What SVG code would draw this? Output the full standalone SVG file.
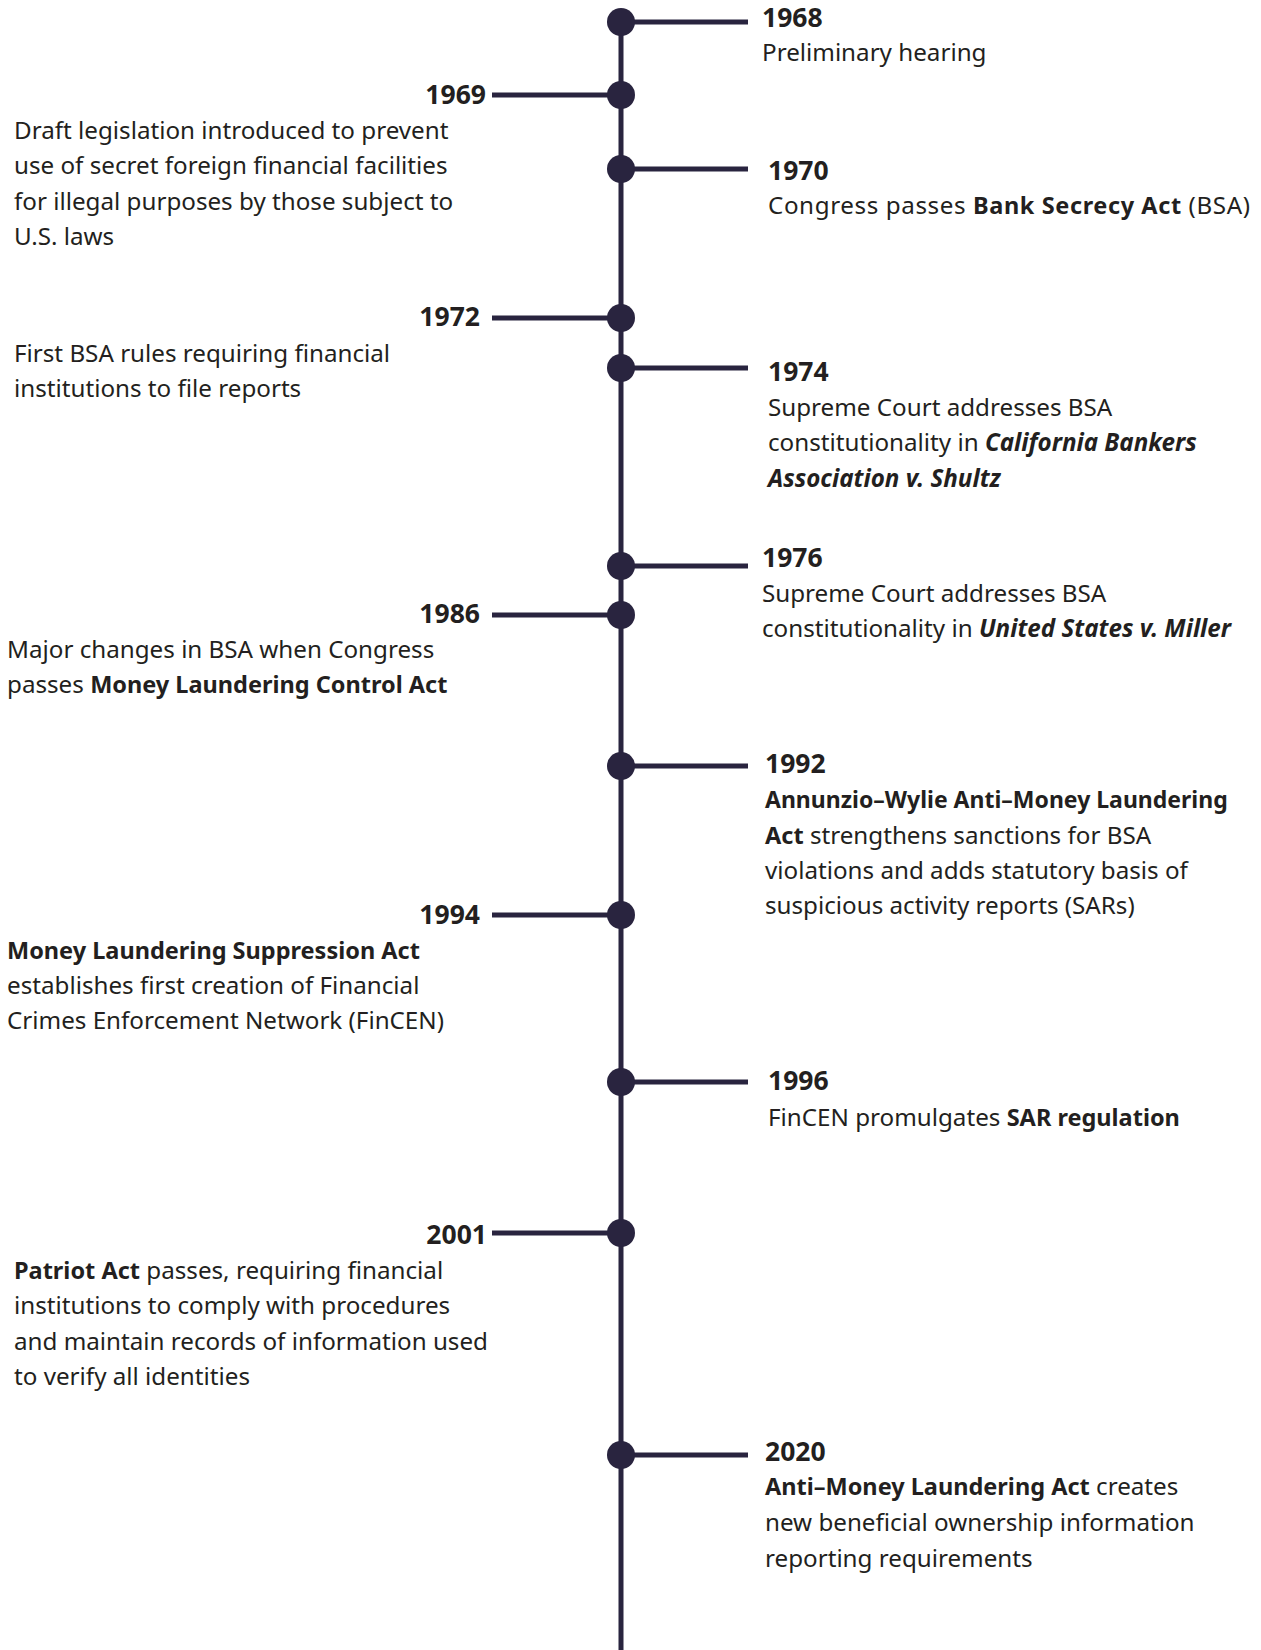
<svg xmlns="http://www.w3.org/2000/svg" width="1261" height="1650" viewBox="0 0 1261 1650">
<style>
.bg{fill:#ffffff}
.ln{stroke:#29243f;stroke-width:5;fill:none}
.dot{fill:#29243f}
text{font-family:"Noto Sans","Liberation Sans",sans-serif;fill:#231f20}
.yr{font-size:26.5px;font-weight:700}
.d{font-size:24.2px;font-weight:400}
.b{font-weight:700;font-size:23.5px}
.b2{font-weight:700;font-size:23px}
.bi{font-weight:700;font-style:italic}
.l{text-anchor:end}
</style>
<rect class="bg" x="0" y="0" width="1261" height="1650"/>
<g id="connectors">
<line class="ln" x1="621" y1="22" x2="621" y2="1650"/>
<line class="ln" x1="621" y1="22" x2="748" y2="22"/>
<line class="ln" x1="492" y1="95" x2="621" y2="95"/>
<line class="ln" x1="621" y1="169" x2="748" y2="169"/>
<line class="ln" x1="492" y1="318" x2="621" y2="318"/>
<line class="ln" x1="621" y1="368" x2="748" y2="368"/>
<line class="ln" x1="621" y1="566" x2="748" y2="566"/>
<line class="ln" x1="492" y1="615" x2="621" y2="615"/>
<line class="ln" x1="621" y1="766" x2="748" y2="766"/>
<line class="ln" x1="492" y1="915" x2="621" y2="915"/>
<line class="ln" x1="621" y1="1082" x2="748" y2="1082"/>
<line class="ln" x1="492" y1="1233" x2="621" y2="1233"/>
<line class="ln" x1="621" y1="1455" x2="748" y2="1455"/>
</g>
<g id="ev1968">
<circle class="dot" cx="621" cy="22" r="14"/>
<text class="yr" x="762" y="27">1968</text>
<text class="d" x="762" y="61">Preliminary hearing</text>
</g>
<g id="ev1969">
<circle class="dot" cx="621" cy="95" r="14"/>
<text class="yr l" x="486" y="104">1969</text>
<text class="d" x="14" y="138.5">Draft legislation introduced to prevent</text>
<text class="d" x="14" y="174">use of secret foreign financial facilities</text>
<text class="d" x="14" y="209.5">for illegal purposes by those subject to</text>
<text class="d" x="14" y="245">U.S. laws</text>
</g>
<g id="ev1970">
<circle class="dot" cx="621" cy="169" r="14"/>
<text class="yr" x="768" y="179.5">1970</text>
<text class="d" x="768" y="214" textLength="482">Congress passes <tspan class="b">Bank Secrecy Act</tspan> (BSA)</text>
</g>
<g id="ev1972">
<circle class="dot" cx="621" cy="318" r="14"/>
<text class="yr l" x="480" y="326">1972</text>
<text class="d" x="14" y="361.7">First BSA rules requiring financial</text>
<text class="d" x="14" y="397">institutions to file reports</text>
</g>
<g id="ev1974">
<circle class="dot" cx="621" cy="368" r="14"/>
<text class="yr" x="768" y="380.6">1974</text>
<text class="d" x="768" y="415.5">Supreme Court addresses BSA</text>
<text class="d" x="768" y="451">constitutionality in <tspan class="bi">California Bankers</tspan></text>
<text class="d" x="768" y="486.5"><tspan class="bi">Association v. Shultz</tspan></text>
</g>
<g id="ev1976">
<circle class="dot" cx="621" cy="566" r="14"/>
<text class="yr" x="762" y="567">1976</text>
<text class="d" x="762" y="601.7">Supreme Court addresses BSA</text>
<text class="d" x="762" y="637">constitutionality in <tspan class="bi">United States v. Miller</tspan></text>
</g>
<g id="ev1986">
<circle class="dot" cx="621" cy="615" r="14"/>
<text class="yr l" x="480" y="622.7">1986</text>
<text class="d" x="7" y="657.5">Major changes in BSA when Congress</text>
<text class="d" x="7" y="693">passes <tspan class="b">Money Laundering Control Act</tspan></text>
</g>
<g id="ev1992">
<circle class="dot" cx="621" cy="766" r="14"/>
<text class="yr" x="765" y="773">1992</text>
<text class="d" x="765" y="808"><tspan class="b2">Annunzio–Wylie Anti–Money Laundering</tspan></text>
<text class="d" x="765" y="843.8"><tspan class="b">Act</tspan> strengthens sanctions for BSA</text>
<text class="d" x="765" y="878.5">violations and adds statutory basis of</text>
<text class="d" x="765" y="914">suspicious activity reports (SARs)</text>
</g>
<g id="ev1994">
<circle class="dot" cx="621" cy="915" r="14"/>
<text class="yr l" x="480" y="924">1994</text>
<text class="d" x="7" y="958.5"><tspan class="b">Money Laundering Suppression Act</tspan></text>
<text class="d" x="7" y="994">establishes first creation of Financial</text>
<text class="d" x="7" y="1029">Crimes Enforcement Network (FinCEN)</text>
</g>
<g id="ev1996">
<circle class="dot" cx="621" cy="1082" r="14"/>
<text class="yr" x="768" y="1090">1996</text>
<text class="d" x="768" y="1126">FinCEN promulgates <tspan class="b">SAR regulation</tspan></text>
</g>
<g id="ev2001">
<circle class="dot" cx="621" cy="1233" r="14"/>
<text class="yr l" x="487" y="1244">2001</text>
<text class="d" x="14" y="1278.5"><tspan class="b">Patriot Act</tspan> passes, requiring financial</text>
<text class="d" x="14" y="1314">institutions to comply with procedures</text>
<text class="d" x="14" y="1350">and maintain records of information used</text>
<text class="d" x="14" y="1385">to verify all identities</text>
</g>
<g id="ev2020">
<circle class="dot" cx="621" cy="1455" r="14"/>
<text class="yr" x="765" y="1460.5">2020</text>
<text class="d" x="765" y="1495"><tspan class="b">Anti–Money Laundering Act</tspan> creates</text>
<text class="d" x="765" y="1531">new beneficial ownership information</text>
<text class="d" x="765" y="1567">reporting requirements</text>
</g>
</svg>
